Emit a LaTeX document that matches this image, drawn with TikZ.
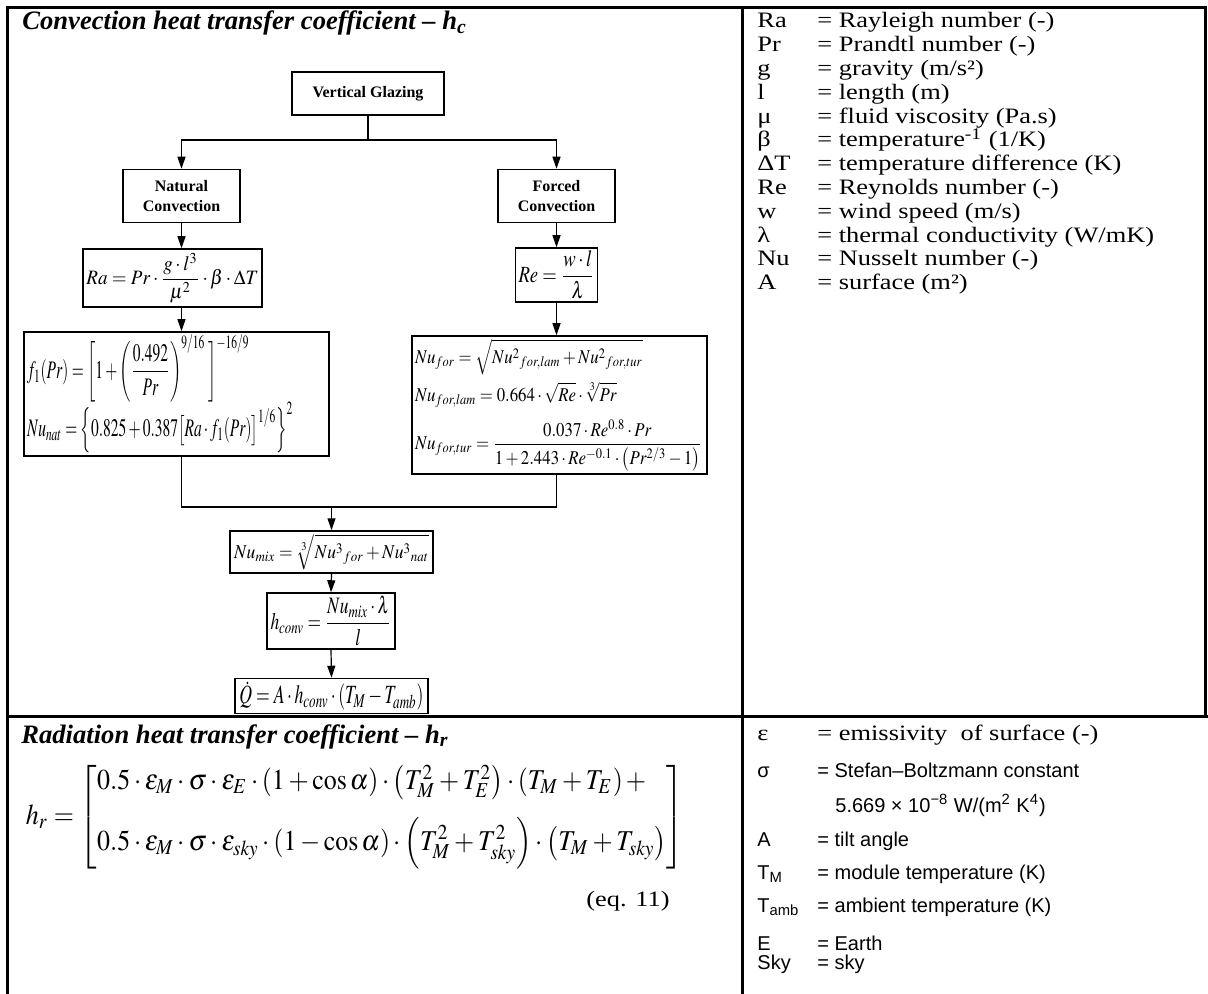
\documentclass[tikz,border=0pt]{standalone}
\usepackage{amsmath}
\usepackage{mathptmx}
\usepackage{fontspec}
\setmainfont{Liberation Serif}
\setsansfont{Liberation Sans}
\newfontfamily\legendfont[FakeStretch=1.2]{Liberation Serif}
\usepackage{graphicx}
\usetikzlibrary{arrows.meta}

\newcommand{\fiteq}[3]{\resizebox*{#1}{#2}{$\displaystyle #3$}}

\tikzset{
  frame/.style={line width=1.5pt},
  textbox/.style={draw, line width=0.75pt, align=center, inner sep=1pt,
    font=\bfseries\fontsize{8}{10}\selectfont},
  eqbox/.style={draw, line width=0.75pt, inner sep=1.5pt},
  flow/.style={line width=0.6pt, -{Triangle[length=6pt,width=4pt]}},
  link/.style={line width=0.6pt},
  heading/.style={anchor=base west, inner sep=0pt,
    font=\bfseries\itshape\fontsize{13.3}{15}\selectfont},
  legend/.style={anchor=base west, inner sep=0pt, font=\legendfont\fontsize{11}{12}\selectfont},
  legendsf/.style={anchor=base west, inner sep=0pt, font=\sffamily\fontsize{10}{12}\selectfont}
}

\begin{document}
\begin{tikzpicture}[x=0.5pt,y=-0.5pt]
\useasboundingbox (0,0) rectangle (1208,994);

\draw[frame] (6,8) -- (1207,8);
\draw[frame] (7,7) -- (7,994);
\draw[frame] (1205,7) -- (1205,716);
\draw[frame] (742,8) -- (742,994);
\draw[frame] (7,716) -- (1208,716);

\node[heading] (convtitle) at (22,30) {Convection heat transfer coefficient – h\textsubscript{c}};

\node[textbox, minimum width=76pt, minimum height=21.5pt] (glazing) at (368,93.5) {Vertical Glazing};
\node[textbox, minimum width=58.5pt, minimum height=26.5pt] (natural) at (181.5,196) {Natural\\Convection};
\node[textbox, minimum width=58.5pt, minimum height=26.5pt] (forced) at (556.5,196) {Forced\\Convection};

\node[eqbox, minimum width=89.5pt, minimum height=29pt] (rayleigh) at (172.5,278)
  {\fiteq{86pt}{25pt}{Ra = Pr\cdot\frac{g\cdot l^{3}}{\mu^{2}}\cdot\beta\cdot\Delta T}};
\node[eqbox, minimum width=39.5pt, minimum height=26pt] (reynolds) at (556.5,275)
  {\fiteq{38pt}{24pt}{Re = \frac{w\cdot l}{\lambda}}};

\node[eqbox, text width=149.5pt, align=left, minimum height=62pt] (fone) at (176.5,394)
  {\fiteq{133pt}{59pt}{\begin{array}{@{}l@{}}
   \displaystyle f_{1}(Pr) = \biggl[1+\biggl(\frac{0.492}{Pr}\biggr)^{9/16}\;\biggr]^{-16/9}\\[5pt]
   \displaystyle Nu_{nat} = \Bigl\{0.825+0.387\bigl[Ra\cdot f_{1}(Pr)\bigr]^{1/6}\Bigr\}^{2}
   \end{array}}};
\node[eqbox, text width=144.5pt, align=left, minimum height=68pt] (nufor) at (559.5,405)
  {\fiteq{143.5pt}{66pt}{\begin{array}{@{}l@{}}
   \displaystyle Nu_{for} = \sqrt{Nu^{2}{}_{for,lam}+Nu^{2}{}_{for,tur}}\\[6pt]
   \displaystyle Nu_{for,lam} = 0.664\cdot\sqrt{Re}\cdot\sqrt[3]{Pr}\\[6pt]
   \displaystyle Nu_{for,tur} = \frac{0.037\cdot Re^{0.8}\cdot Pr}{1+2.443\cdot Re^{-0.1}\cdot\left(Pr^{2/3}-1\right)}
   \end{array}}};

\node[eqbox, minimum width=101.5pt, minimum height=20pt] (numix) at (331.5,552)
  {\fiteq{97.5pt}{18pt}{Nu_{mix} = \sqrt[3]{Nu^{3}{}_{for}+Nu^{3}{}_{nat}}}};
\node[eqbox, minimum width=64pt, minimum height=28pt] (hconv) at (331,621)
  {\fiteq{60.5pt}{25pt}{h_{conv} = \frac{Nu_{mix}\cdot\lambda}{l}}};
\node[eqbox, minimum width=96.5pt, minimum height=17pt] (qdot) at (331.5,696)
  {\fiteq{92pt}{14.5pt}{\dot{Q} = A\cdot h_{conv}\cdot\left(T_{M}-T_{amb}\right)}};

\coordinate (split) at (368,140);
\coordinate (merge) at (331.5,507);
\draw[link] (glazing.south) -- (split);
\draw[flow] (split) -| (natural.north);
\draw[flow] (split) -| (forced.north);
\draw[flow] (natural.south) -- (natural.south |- rayleigh.north);
\draw[flow] (natural.south |- rayleigh.south) -- (natural.south |- fone.north);
\draw[flow] (forced.south) -- (reynolds.north);
\draw[flow] (reynolds.south) -- (reynolds.south |- nufor.north);
\draw[link] (natural.south |- fone.south) |- (merge) -| (forced.south |- nufor.south);
\draw[flow] (merge) -- (numix.north);
\draw[flow] (numix.south) -- (hconv.north);
\draw[flow] (hconv.south) -- (qdot.north);

\node[legend] (legRa) at (757,28) {\makebox[30pt][l]{Ra}= Rayleigh number (-)};
\node[legend] (legPr) at (757,51.8) {\makebox[30pt][l]{Pr}= Prandtl number (-)};
\node[legend] (legg) at (757,75.6) {\makebox[30pt][l]{g}= gravity (m/s²)};
\node[legend] (legl) at (757,99.4) {\makebox[30pt][l]{l}= length (m)};
\node[legend] (legmu) at (757,123.2) {\makebox[30pt][l]{μ}= fluid viscosity (Pa.s)};
\node[legend] (legbeta) at (757,147) {\makebox[30pt][l]{β}= temperature\textsuperscript{-1} (1/K)};
\node[legend] (legdT) at (757,170.8) {\makebox[30pt][l]{ΔT}= temperature difference (K)};
\node[legend] (legRe) at (757,194.6) {\makebox[30pt][l]{Re}= Reynolds number (-)};
\node[legend] (legw) at (757,218.4) {\makebox[30pt][l]{w}= wind speed (m/s)};
\node[legend] (leglambda) at (757,242.2) {\makebox[30pt][l]{λ}= thermal conductivity (W/mK)};
\node[legend] (legNu) at (757,266) {\makebox[30pt][l]{Nu}= Nusselt number (-)};
\node[legend] (legA) at (757,289.8) {\makebox[30pt][l]{A}= surface (m²)};

\node[heading] (radtitle) at (21,743) {Radiation heat transfer coefficient – h\textsubscript{r}};
\node[inner sep=0pt] (hrad) at (355,817)
  {\fiteq{329pt}{52pt}{h_{r} = \left[\begin{array}{@{}l@{}}
   0.5\cdot\varepsilon_{M}\cdot\sigma\cdot\varepsilon_{E}\cdot\left(1+\cos\alpha\right)\cdot\left(T_{M}^{2}+T_{E}^{2}\right)\cdot\left(T_{M}+T_{E}\right)+\\[6pt]
   0.5\cdot\varepsilon_{M}\cdot\sigma\cdot\varepsilon_{sky}\cdot\left(1-\cos\alpha\right)\cdot\left(T_{M}^{2}+T_{sky}^{2}\right)\cdot\left(T_{M}+T_{sky}\right)
   \end{array}\right]}};
\node[legend, anchor=base east] (eqnum) at (670,906) {(eq. 11)};

\node[legend] (legeps) at (757,740) {\makebox[30pt][l]{ε}= emissivity\ \ of surface (-)};
\node[legendsf] (legsigma) at (757,777) {\makebox[30pt][l]{σ}= Stefan–Boltzmann constant};
\node[legendsf] (legsigmaval) at (835,812) {5.669 × 10\textsuperscript{−8} W/(m\textsuperscript{2} K\textsuperscript{4})};
\node[legendsf] (legtilt) at (757,846) {\makebox[30pt][l]{A}= tilt angle};
\node[legendsf] (legTM) at (757,879) {\makebox[30pt][l]{T\textsubscript{M}}= module temperature (K)};
\node[legendsf] (legTamb) at (757,912) {\makebox[30pt][l]{T\textsubscript{amb}}= ambient temperature (K)};
\node[legendsf] (legE) at (757,950) {\makebox[30pt][l]{E}= Earth};
\node[legendsf] (legSky) at (757,969) {\makebox[30pt][l]{Sky}= sky};
\end{tikzpicture}
\end{document}
